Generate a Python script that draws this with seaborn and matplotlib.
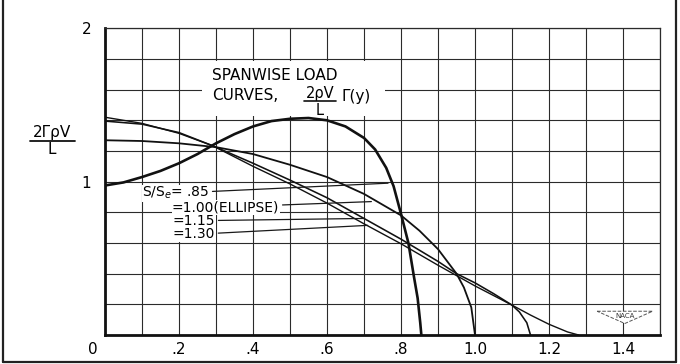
import numpy as np
import pandas as pd
import matplotlib
matplotlib.use('Agg')
import matplotlib.pyplot as plt
from matplotlib.lines import Line2D
from matplotlib.patches import Polygon, Rectangle
from matplotlib.transforms import ScaledTranslation
import seaborn as sns

# spanwise station (fraction of elliptic semispan) vs 2*Gamma*rho*V/L
span_085 = [0, .05, .1, .15, .2, .25, .3, .35, .4, .45, .5, .55, .6, .65, .7, .73, .76, .78, .8, .82, .835, .845, .852, .855]
load_085 = [.975, .995, 1.03, 1.07, 1.12, 1.18, 1.25, 1.31, 1.36, 1.395, 1.41, 1.415, 1.40, 1.36, 1.285, 1.21, 1.09, .97, .79, .60, .38, .24, .08, 0]

span_100 = [0, .1, .2, .3, .4, .5, .6, .7, .75, .8, .85, .9, .95, .97, .99, 1.0]
load_100 = [1.27, 1.265, 1.25, 1.225, 1.18, 1.11, 1.03, .92, .85, .78, .68, .56, .40, .31, .18, 0]

span_115 = [0, .1, .2, .29, .4, .5, .6, .7, .8, .9, .95, 1.0, 1.05, 1.1, 1.12, 1.14, 1.15]
load_115 = [1.395, 1.375, 1.32, 1.235, 1.12, 1.01, .895, .76, .625, .48, .40, .34, .27, .195, .15, .08, 0]

span_130 = [0, .1, .2, .29, .4, .5, .6, .7, .8, .9, 1.0, 1.1, 1.15, 1.2, 1.25, 1.28]
load_130 = [1.42, 1.38, 1.315, 1.235, 1.10, .985, .86, .725, .595, .455, .32, .195, .13, .07, .02, 0]

x_ticks = [0, .2, .4, .6, .8, 1.0, 1.2, 1.4]
x_labels = ['0', '.2', '.4', '.6', '.8', '1.0', '1.2', '1.4']
y_ticks = [0, 1, 2]
y_labels = ['', '1', '2']

sns.set_style('white')
plt.rcParams['font.family'] = ['DejaVu Sans']
plt.rcParams['text.color'] = 'black'
plt.rcParams['xtick.color'] = 'black'
plt.rcParams['ytick.color'] = 'black'

fig = plt.figure(figsize=(6.8, 3.64), dpi=100)
ax = fig.add_axes([105 / 680, 1 - 335 / 364, 555 / 680, 306.7 / 364])

curves = [
    (span_085, load_085, 1.9),
    (span_100, load_100, 1.3),
    (span_115, load_115, 1.15),
    (span_130, load_130, 1.0),
]
for xs, ys, lw in curves:
    df = pd.DataFrame({'y': xs, 'load': ys})
    sns.lineplot(data=df, x='y', y='load', ax=ax, color='#111111', lw=lw, zorder=4)

ax.set_xlim(0, 1.5)
ax.set_ylim(0, 2)
ax.set_xticks(x_ticks)
ax.set_xticklabels(x_labels, fontsize=11)
ax.set_yticks(y_ticks)
ax.set_yticklabels(y_labels, fontsize=11)
ax.set_xticks(np.arange(0, 1.51, 0.1), minor=True)
ax.set_yticks(np.arange(0, 2.01, 0.2), minor=True)
ax.grid(which='both', color='#2b2b2b', lw=0.8)
ax.tick_params(which='both', length=0)
ax.tick_params(axis='x', pad=5)
ax.tick_params(axis='y', pad=10)
ax.set_xlabel('')
ax.set_ylabel('')
ax.set_axisbelow(True)

# the "0" at the origin sits left of the axis
lbl0 = ax.get_xticklabels()[0]
lbl0.set_transform(lbl0.get_transform() + ScaledTranslation(-0.12, 0, fig.dpi_scale_trans))

for side in ['left', 'bottom']:
    ax.spines[side].set_linewidth(2.0)
    ax.spines[side].set_color('#111111')
for side in ['top', 'right']:
    ax.spines[side].set_linewidth(0.9)
    ax.spines[side].set_color('#2b2b2b')

# title block inside the grid
ax.add_patch(Rectangle((0.262, 1.43), 0.495, 0.36, facecolor='white', edgecolor='none', zorder=2))
ax.text(0.289, 1.69, 'SPANWISE LOAD', fontsize=11, ha='left', va='center', zorder=5)
ax.text(0.289, 1.565, 'CURVES,', fontsize=11, ha='left', va='center', zorder=5)
ax.text(0.581, 1.578, '2ρV', fontsize=10.5, ha='center', va='center', zorder=5)
ax.add_line(Line2D([0.538, 0.624], [1.525, 1.525], color='#111111', lw=1.2, zorder=5))
ax.text(0.581, 1.465, 'L', fontsize=10.5, ha='center', va='center', zorder=5)
ax.text(0.64, 1.555, 'Γ(y)', fontsize=11, ha='left', va='center', zorder=5)

# curve labels with leader lines
box = dict(facecolor='white', edgecolor='none', pad=0.3)
leader = dict(arrowstyle='-', color='#1a1a1a', lw=0.9, shrinkA=2, shrinkB=0)
labels = [
    (r'S/S$_e$= .85', (0.10, 0.925), (0.765, 0.99)),
    ('=1.00(ELLIPSE)', (0.181, 0.834), (0.72, 0.87)),
    ('=1.15', (0.183, 0.745), (0.70, 0.76)),
    ('=1.30', (0.183, 0.656), (0.71, 0.715)),
]
for txt, pos, tip in labels:
    ax.annotate(txt, xy=tip, xytext=pos, fontsize=10, ha='left', va='center',
                bbox=box, arrowprops=leader, zorder=5)

# NACA mark
ax.add_patch(Polygon([[1.33, 0.155], [1.48, 0.155], [1.405, 0.075]], closed=True,
                     facecolor='white', edgecolor='#555555', lw=0.7, ls='--', zorder=5))
ax.text(1.405, 0.125, 'NACA', fontsize=5, ha='center', va='center', color='#333333', zorder=6)

# y-axis fraction label
fig.text(52 / 680, 1 - 133 / 364, '2ΓρV', fontsize=11, ha='center', va='center')
fig.add_artist(Line2D([30 / 680, 75 / 680], [1 - 141 / 364, 1 - 141 / 364], color='#111111', lw=1.3))
fig.text(52 / 680, 1 - 150 / 364, 'L', fontsize=11, ha='center', va='center')

# page frame
for xs, ys in [([3 / 680, 3 / 680], [1, 2 / 364]), ([676 / 680, 676 / 680], [1, 2 / 364]),
               ([3 / 680, 676 / 680], [2 / 364, 2 / 364])]:
    fig.add_artist(Line2D(xs, ys, color='#222222', lw=1.6))

fig.savefig('out.png', dpi=100, facecolor='white')
